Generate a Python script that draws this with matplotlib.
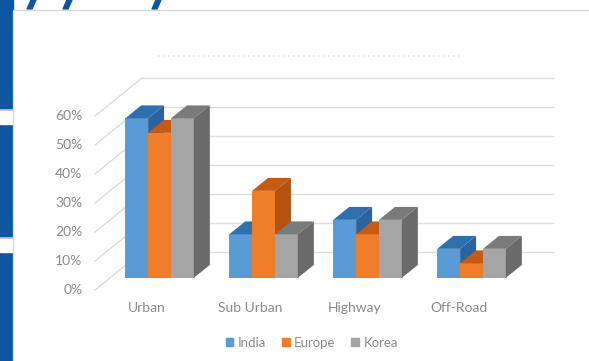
import numpy as np
import matplotlib
matplotlib.use("Agg")
import matplotlib.pyplot as plt
from matplotlib.patches import Polygon, Rectangle

# data
categories = ["Urban", "Sub Urban", "Highway", "Off-Road"]
series = ["India", "Europe", "Korea"]
india = [0.55, 0.15, 0.20, 0.10]
europe = [0.50, 0.30, 0.15, 0.05]
korea = [0.55, 0.15, 0.20, 0.10]
yticks = [0.0, 0.1, 0.2, 0.3, 0.4, 0.5, 0.6]
ytick_labels = ["0%", "10%", "20%", "30%", "40%", "50%", "60%"]

values = [india, europe, korea]
front_col = ["#5B9BD5", "#F07D28", "#A5A5A5"]
top_col = ["#2F6FAE", "#C65A12", "#7A7A7A"]
side_col = ["#2A64A0", "#B5520F", "#6A6A6A"]
text_c = "#8A8A8A"

W, H = 589, 361
fig = plt.figure(figsize=(W / 100, H / 100), dpi=100)

# background decoration in pixel coords
bg = fig.add_axes([0, 0, 1, 1])
bg.set_xlim(0, W); bg.set_ylim(H, 0); bg.axis("off")
blue = "#0B58A0"
bg.add_patch(Rectangle((0, 0), 13, H, color=blue, zorder=1))
for y0 in (110, 238):
    bg.add_patch(Rectangle((0, y0), 13, 14, color="white", zorder=2))
    bg.plot([0, 13], [y0, y0], color="#BFBFBF", lw=1.2, zorder=3)
for x0 in (27, 63, 152):
    bg.add_patch(Polygon([(x0, 9), (x0 + 5, 9), (x0 + 9, 0), (x0 + 4, 0)],
                         color=blue, zorder=1))
bg.add_patch(Rectangle((13, 10), W, H, facecolor="white", edgecolor="#D9D9D9",
                       lw=1.0, zorder=4))
bg.plot([158, 462], [56, 56], color="#E6E6E6", lw=1.2, ls=(0, (1, 2)), zorder=5)

# chart axes: x in category units, y in value units
ax = fig.add_axes([0, 0, 1, 1])
ax.patch.set_alpha(0)
ax.set_xlim((0 - 144.5) / 104, (W - 144.5) / 104)
ax.set_ylim((290 - H) / 290, 290 / 290)
ax.axis("off")

DX, DY = 47 / 104, 38 / 290      # full depth offset
d0, d1 = 0.32, 0.66              # bar depth range
fl, fr = -0.476, 3.476           # floor extent
grid_c = "#DCDCDC"

for v in yticks:
    ax.plot([fl + DX, fr + DX], [v + DY, v + DY], color=grid_c, lw=1, zorder=1)
    ax.plot([fl, fl + DX], [v, v + DY], color=grid_c, lw=1, zorder=1)
for v, lab in zip(yticks, ytick_labels):
    ax.text(fl - 0.12, v, lab, ha="right", va="center", fontsize=10,
            color=text_c, family="Lato")

w = 0.22
for i, cat in enumerate(categories):
    for j in range(3):
        v = values[j][i]
        left = i - 1.5 * w + j * w
        x0, x1 = left + d0 * DX, left + w + d0 * DX
        ax.add_patch(Polygon([(x0, d0 * DY), (x1, d0 * DY), (x1, v + d0 * DY), (x0, v + d0 * DY)],
                             closed=True, facecolor=front_col[j], edgecolor="none", zorder=3))
        ax.add_patch(Polygon([(x0, v + d0 * DY), (x1, v + d0 * DY),
                              (left + w + d1 * DX, v + d1 * DY), (left + d1 * DX, v + d1 * DY)],
                             closed=True, facecolor=top_col[j], edgecolor="none", zorder=3))
        ax.add_patch(Polygon([(x1, d0 * DY), (left + w + d1 * DX, d1 * DY),
                              (left + w + d1 * DX, v + d1 * DY), (x1, v + d0 * DY)],
                             closed=True, facecolor=side_col[j], edgecolor="none", zorder=3))
    ax.text(i + 0.02, -0.062, cat, ha="center", va="center", fontsize=10,
            color=text_c, family="Lato")

handles = [Rectangle((0, 0), 1, 1, color=c) for c in front_col]
ax.legend(handles, series, loc="center", bbox_to_anchor=(312 / W, 1 - 343 / H),
          bbox_transform=fig.transFigure, frameon=False, ncol=3, handlelength=0.55,
          handleheight=0.55, columnspacing=1.2, handletextpad=0.35,
          prop={"family": "Lato", "size": 9.5}, labelcolor=text_c)

fig.savefig("out.png", dpi=100)
